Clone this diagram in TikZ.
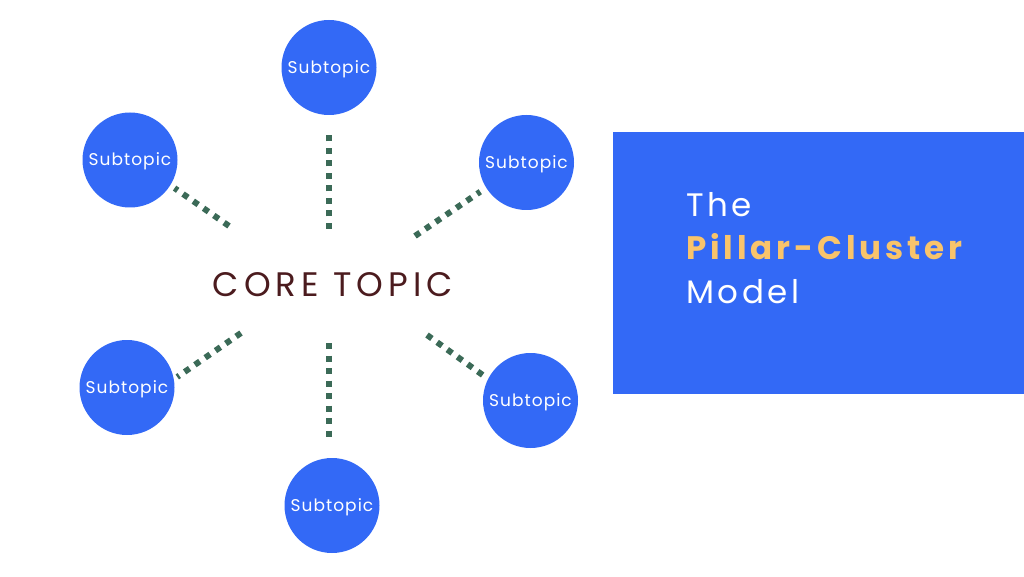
\documentclass[tikz,border=0pt]{standalone}
\usepackage{fontspec}
\setmainfont{Poppins}
\newfontfamily\widefont[LetterSpace=11]{Poppins}
\newfontfamily\corefont[LetterSpace=15]{Poppins}
\newfontfamily\pillarfont[LetterSpace=12]{Poppins}
\newfontfamily\subfont[LetterSpace=6]{Poppins}
\definecolor{topicblue}{HTML}{3369F6}
\definecolor{dotgreen}{HTML}{3B6A57}
\definecolor{coremaroon}{HTML}{4B1B1E}
\definecolor{pillaryellow}{HTML}{F9C46B}
\begin{document}
\begin{tikzpicture}[x=1pt,y=-1pt,
    subtopic/.style={shape=circle,fill=topicblue,minimum size=95pt,inner sep=0pt,text=white,font=\subfont\fontsize{17}{17}\selectfont,text depth=1pt},
    dotline/.style={draw=dotgreen,line width=6pt,dash pattern=on 6pt off 6.5pt},
    titleline/.style={anchor=base west,inner sep=0pt,text=white,font=\widefont\fontsize{32.5}{32.5}\selectfont}]
    \useasboundingbox (0,0) rectangle (1024,577);

    \node[shape=rectangle,fill=topicblue,anchor=north west,minimum width=411pt,minimum height=262pt] (box) at (613,132) {};
    \node[titleline] (the) at (686,217) {The};
    \node[titleline,text=pillaryellow,font=\pillarfont\bfseries\fontsize{32.5}{32.5}\selectfont] (pillar) at (686,259) {Pillar-Cluster};
    \node[titleline] (model) at (686,303) {Model};

    \node[text=coremaroon,font=\corefont\fontsize{34}{34}\selectfont] (core) at (333,285) {CORE TOPIC};

    \node[subtopic] (top) at (329,67.5) {Subtopic};
    \node[subtopic] (tl) at (130,160) {Subtopic};
    \node[subtopic] (tr) at (526.5,162.5) {Subtopic};
    \node[subtopic] (bl) at (127,387.5) {Subtopic};
    \node[subtopic] (br) at (530.5,400.5) {Subtopic};
    \node[subtopic] (bot) at (332,505.5) {Subtopic};

    \coordinate (c-top) at (329,229);
    \coordinate (c-bot) at (329,343);
    \coordinate (c-tl) at (229,226);
    \coordinate (c-tr) at (415,236);
    \coordinate (c-bl) at (241,333);
    \coordinate (c-br) at (427,335);

    \path [dotline,shorten >=18pt] (c-top) edge (c-top |- top.south);
    \path [dotline,shorten >=15pt] (c-bot) edge (c-bot |- bot.north);
    \path [dotline,shorten >=5pt] (c-tl) edge (tl.-32);
    \path [dotline,shorten >=7pt] (c-tr) edge (tr.212);
    \path [dotline,shorten >=4pt] (c-bl) edge (bl.10);
    \path [dotline,shorten >=4pt] (c-br) edge (br.153);
\end{tikzpicture}
\end{document}
